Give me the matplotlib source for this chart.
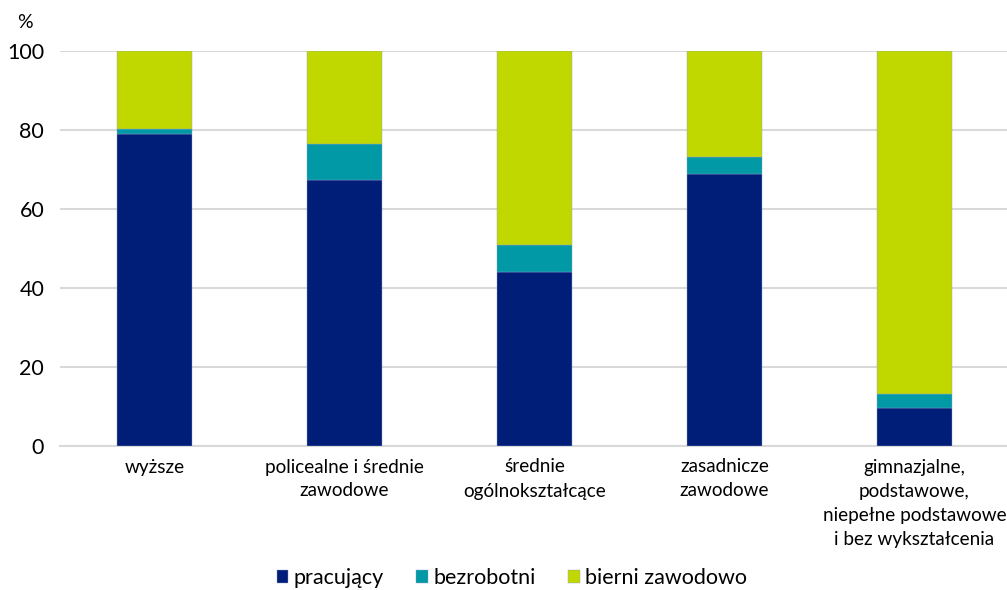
import matplotlib
matplotlib.use("Agg")
import matplotlib.pyplot as plt
import numpy as np

categories = ["wyższe", "policealne i średnie\nzawodowe", "średnie\nogólnokształcące",
              "zasadnicze\nzawodowe", "gimnazjalne,\npodstawowe,\nniepełne podstawowe\ni bez wykształcenia"]
pracujacy = [78.9, 67.3, 44.1, 68.9, 9.7]
bezrobotni = [1.3, 9.2, 6.9, 4.3, 3.5]
bierni = [19.8, 23.5, 49.0, 26.8, 86.8]
series_names = ["pracujący", "bezrobotni", "bierni zawodowo"]
colors = ["#001e78", "#0099a5", "#c0d800"]
yticks = [0, 20, 40, 60, 80, 100]

plt.rcParams['font.family'] = ['Lato', 'DejaVu Sans']

fig = plt.figure(figsize=(10.07, 5.9), dpi=100)
ax = fig.add_axes([59.5/1007, 144/590, 950/1007, 395/590])

x = np.arange(len(categories))
w = 0.395
bottom = np.zeros(len(categories))
for vals, name, c in zip([pracujacy, bezrobotni, bierni], series_names, colors):
    ax.bar(x, vals, w, bottom=bottom, color=c, label=name, edgecolor="#8fa0c8", linewidth=0.3, zorder=3)
    bottom += np.array(vals)

ax.set_xlim(-0.5, len(categories) - 0.5)
ax.set_ylim(0, 100)
ax.set_yticks(yticks)
ax.set_yticklabels([str(t) for t in yticks], fontsize=15.5)
ax.yaxis.grid(True, color="#d9d9d9", linewidth=1.5, zorder=0)
ax.set_axisbelow(True)
for s in ["left", "right", "top"]:
    ax.spines[s].set_visible(False)
ax.spines["bottom"].set_color("#d9d9d9")
ax.spines["bottom"].set_linewidth(1.5)
ax.tick_params(axis="y", length=0, pad=11)
ax.tick_params(axis="x", length=0, pad=9)
ax.set_xticks(x)
ax.set_xticklabels(categories, fontsize=13.6, linespacing=1.5, va="top")

fig.text(17/1007, 1 - 22/590, "%", fontsize=14, va="center", ha="left")

leg = fig.legend(loc="center", bbox_to_anchor=(512/1007, 1 - 578/590), ncol=3, frameon=False,
                 fontsize=15.5, handlelength=0.55, handleheight=0.55, handletextpad=0.25, columnspacing=1.5)

fig.savefig("out.png", dpi=100)
